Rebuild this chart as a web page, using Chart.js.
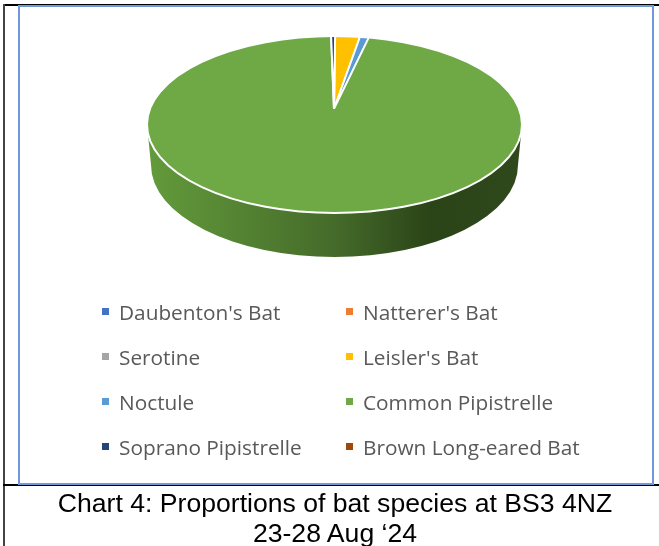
<!DOCTYPE html>
<html>
<head>
<meta charset="utf-8">
<script src="https://cdn.jsdelivr.net/npm/chart.js@4"></script>
<style>
  html, body { margin: 0; padding: 0; background: #fff; overflow: hidden; }
  #page { position: relative; width: 659px; height: 546px; }
  #myChart { position: absolute; left: 0; top: 0; }
  .rule { position: absolute; background: #000; }
  #frame { position: absolute; left: 18px; top: 5px; width: 632px; height: 476px; border: 2px solid #7298dc; }
  #legend { position: absolute; left: 102px; top: 289px; display: grid; grid-template-columns: 244px auto; grid-auto-rows: 45px;
            font: 20.8px "Open Sans"; color: #595959; }
  .item { display: flex; align-items: center; white-space: nowrap; }
  .swatch { width: 7px; height: 7px; margin-right: 10px; }
  #caption { position: absolute; left: 0; top: 488px; width: 659px; padding-left: 11px; box-sizing: border-box; text-align: center;
             font: 26.6px/30px "Liberation Sans"; color: #000; }
</style>
</head>
<body>
<div id="page">
  <div class="rule" style="left:3px;top:4px;width:656px;height:2px"></div>
  <div class="rule" style="left:3px;top:4px;width:2px;height:542px;background:#444"></div>
  <div class="rule" style="left:3px;top:484px;width:656px;height:2px"></div>
  <div id="frame"></div>
  <canvas id="myChart" width="659" height="546"></canvas>
  <div id="legend"></div>
  <div id="caption">Chart 4: Proportions of bat species at BS3 4NZ<br>23-28 Aug ‘24</div>
</div>
<script>
const species = ["Daubenton's Bat", "Natterer's Bat", "Serotine", "Leisler's Bat", "Noctule", "Common Pipistrelle", "Soprano Pipistrelle", "Brown Long-eared Bat"];
const percentages = [0, 0, 0, 2.5, 0.9, 96.2, 0.4, 0];
const sliceColors = ['#4472C4', '#ED7D31', '#A5A5A5', '#FFC000', '#5B9BD5', '#6FA946', '#264478', '#9E480E'];

// the pie is seen at an angle: top ellipse, tip off centre, then the side wall under it
const view = { cx: 334.5, cy: 124.5, rx: 187.5, ry: 88.5, apexX: 334, apexY: 109, tilt: 0.46 };
const wall = { cx: 334.5, cy: 165, rx: 183.5, ry: 92 };

function ellipsePath(ctx, e) {
    ctx.beginPath();
    ctx.ellipse(e.cx, e.cy, e.rx, e.ry, 0, 0, Math.PI * 2);
}

const tiltedPie = {
    id: 'tiltedPie',
    beforeDatasetsDraw(chart) {
        const ctx = chart.ctx;
        const arc = chart.getDatasetMeta(0).data[0];

        // side wall
        const grad = ctx.createLinearGradient(view.cx - view.rx, 0, view.cx + view.rx, 0);
        grad.addColorStop(0, '#639b3b');
        grad.addColorStop(0.5, '#456b2a');
        grad.addColorStop(0.76, '#2a4317');
        grad.addColorStop(1, '#30491c');
        ctx.save();
        ctx.beginPath();
        ctx.ellipse(wall.cx, wall.cy, wall.rx, wall.ry, 0, 0, Math.PI);
        ctx.lineTo(view.cx - view.rx, view.cy);
        ctx.ellipse(view.cx, view.cy, view.rx, view.ry, 0, Math.PI, 0, true);
        ctx.closePath();
        ctx.fillStyle = grad;
        ctx.fill();
        ctx.restore();

        // slices come from the library, squashed and cut to the top ellipse
        ctx.save();
        ellipsePath(ctx, view);
        ctx.clip();
        ctx.translate(view.apexX, view.apexY);
        ctx.scale(1, view.tilt);
        ctx.translate(-arc.x, -arc.y);
    },
    afterDatasetsDraw(chart) {
        const ctx = chart.ctx;
        ctx.restore();
        ellipsePath(ctx, view);
        ctx.strokeStyle = '#ffffff';
        ctx.lineWidth = 2;
        ctx.stroke();
    }
};

const myChart = new Chart(document.getElementById('myChart'), {
    type: 'pie',
    data: {
        labels: species,
        datasets: [{
            data: percentages,
            backgroundColor: sliceColors,
            borderColor: '#ffffff',
            borderWidth: 2,
            clip: false
        }]
    },
    options: {
        responsive: false,
        animation: false,
        rotation: 0.4,
        plugins: {
            legend: { display: false },
            tooltip: { enabled: false }
        }
    },
    plugins: [tiltedPie]
});

// two column legend, Chart.js can't line its columns up like this
const legendBox = document.getElementById('legend');
myChart.data.labels.forEach((label, i) => {
    const item = document.createElement('div');
    item.className = 'item';
    const swatch = document.createElement('span');
    swatch.className = 'swatch';
    swatch.style.background = sliceColors[i];
    item.appendChild(swatch);
    item.appendChild(document.createTextNode(label));
    legendBox.appendChild(item);
});
</script>
</body>
</html>
